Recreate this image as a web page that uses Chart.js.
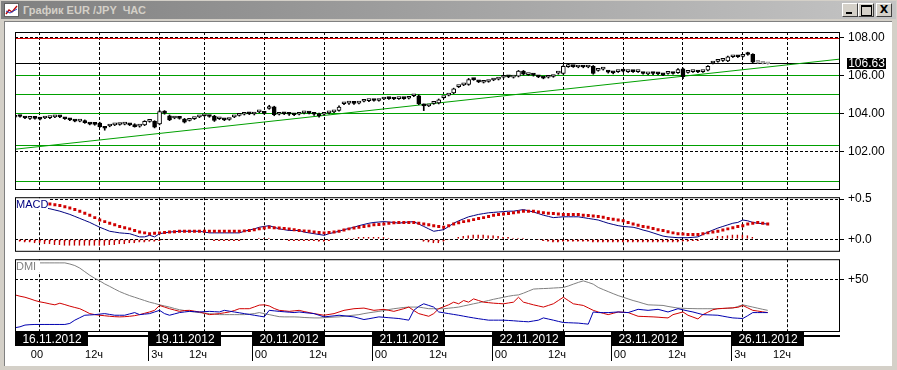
<!DOCTYPE html>
<html>
<head>
<meta charset="utf-8">
<script src="https://cdn.jsdelivr.net/npm/chart.js@4.4.0/dist/chart.umd.min.js"></script>
<style>
body{margin:0;width:897px;height:370px;background:#d4d0c8;position:relative;overflow:hidden;font-family:"Liberation Sans",Arial,sans-serif}
#cap{position:absolute;left:1px;top:1px;width:895px;height:18px;background:linear-gradient(to right,#808080,#c4c4c4)}
#cap span{position:absolute;left:22px;top:3px;font:bold 11px "Liberation Sans",Arial,sans-serif;color:#d4d0c8;white-space:pre}
#ico{position:absolute;left:3px;top:2px}
.btn{position:absolute;top:2px;width:16px;height:14px;background:#d4d0c8;box-sizing:border-box;border:1px solid;border-color:#fff #404040 #404040 #fff}
#client{position:absolute;left:4px;top:21px;width:887px;height:344px;background:#fff;border-left:1px solid #808080;border-top:1px solid #808080}
canvas{position:absolute;left:0}
</style>
</head>
<body>
<div id="cap">
  <div id="ico"><svg width="15" height="14"><rect x="0.5" y="0.5" width="14" height="13" fill="#fff" stroke="#606060"/><polyline points="2,11 5,7 8,9 13,3" fill="none" stroke="#c00000" stroke-width="1.3"/><polyline points="2,8 6,10 13,6" fill="none" stroke="#2040c0" stroke-width="1"/></svg></div>
  <span>График EUR /JPY  ЧАС</span>
  <div class="btn" style="left:841px"><div style="position:absolute;left:3px;top:8px;width:6px;height:2px;background:#000"></div></div>
  <div class="btn" style="left:857px"><div style="position:absolute;left:2px;top:1px;width:9px;height:8px;border:1px solid #000;border-top-width:2px"></div></div>
  <div class="btn" style="left:875px;font:bold 11px 'DejaVu Sans',sans-serif;text-align:center;line-height:12px">X</div>
</div>
<div id="client"></div>
<canvas id="price" width="897" height="181" style="top:20px"></canvas>
<canvas id="macd" width="897" height="76" style="top:186px"></canvas>
<canvas id="dmi" width="897" height="119" style="top:248px"></canvas>
<script>
// hourly bars, 15.11 19:00 .. 26.11 06:00
const opens = [
103.82,103.88,103.80,103.76,103.77,103.74,103.78,103.80,103.84,103.85,
103.76,103.70,103.64,103.62,103.64,103.48,103.46,103.52,103.27,103.36,
103.42,103.44,103.46,103.44,103.44,103.35,103.42,103.60,103.60,103.47,
104.06,103.90,103.78,103.77,103.72,103.66,103.75,103.84,103.90,103.88,
103.88,103.74,103.70,103.70,103.84,103.92,103.98,104.01,103.99,104.10,
104.04,104.28,104.37,103.98,104.01,103.99,103.96,103.98,104.05,104.06,
104.00,104.00,103.98,104.05,104.10,104.18,104.53,104.56,104.57,104.56,
104.66,104.69,104.71,104.70,104.78,104.81,104.79,104.80,104.81,104.82,
104.95,104.95,104.48,104.42,104.55,104.57,104.85,104.98,105.10,105.43,
105.52,105.54,105.82,105.70,105.66,105.70,105.78,105.82,105.92,105.95,
105.93,105.98,106.24,106.06,106.05,105.96,105.90,105.92,105.96,106.14,
106.12,106.48,106.50,106.46,106.48,106.46,106.50,106.28,106.35,106.21,
106.17,106.22,106.25,106.22,106.24,106.22,106.14,106.10,106.13,106.12,
106.07,106.13,106.14,106.16,106.37,106.18,106.22,106.22,106.22,106.30,
106.67,106.76,106.81,106.78,107.00,107.02,107.02,107.20,107.13,106.70,
106.68,106.64];
const highs = [
103.96,103.92,103.84,103.82,103.82,103.80,103.84,103.86,103.92,103.90,
103.80,103.76,103.68,103.68,103.68,103.52,103.52,103.56,103.32,103.42,
103.48,103.50,103.52,103.48,103.48,103.42,103.64,103.66,103.64,104.18,
104.17,103.94,103.84,103.82,103.76,103.72,103.80,103.90,103.96,103.92,
103.92,103.80,103.74,103.76,103.90,103.98,104.04,104.06,104.06,104.16,
104.10,104.45,104.40,104.04,104.06,104.04,104.00,104.04,104.12,104.10,
104.04,104.04,104.04,104.10,104.16,104.42,104.60,104.62,104.62,104.62,
104.72,104.74,104.76,104.76,104.84,104.86,104.84,104.86,104.86,104.88,
105.02,105.00,104.52,104.48,104.60,104.78,104.90,105.04,105.35,105.50,
105.58,105.86,105.86,105.74,105.72,105.75,105.84,105.88,105.98,105.98,
105.98,106.28,106.28,106.12,106.10,106.00,105.94,105.98,106.02,106.20,
106.54,106.65,106.54,106.52,106.52,106.52,106.54,106.34,106.42,106.26,
106.20,106.28,106.30,106.28,106.28,106.28,106.18,106.16,106.18,106.16,
106.12,106.18,106.18,106.38,106.40,106.24,106.28,106.26,106.28,106.54,
106.72,106.82,106.86,107.04,107.06,107.06,107.08,107.24,107.16,106.76,
106.70,106.67];
const lows = [
103.78,103.82,103.74,103.70,103.72,103.68,103.74,103.74,103.80,103.80,
103.70,103.64,103.58,103.58,103.50,103.42,103.40,103.28,103.14,103.32,
103.38,103.40,103.42,103.38,103.30,103.30,103.38,103.56,103.26,103.42,
103.98,103.64,103.74,103.72,103.52,103.62,103.70,103.80,103.86,103.82,
103.60,103.70,103.64,103.66,103.80,103.88,103.94,103.96,103.94,104.06,
103.98,104.24,103.90,103.94,103.96,103.92,103.90,103.94,104.00,104.00,
103.92,103.82,103.94,104.00,104.06,104.14,104.48,104.50,104.50,104.52,
104.62,104.64,104.66,104.66,104.74,104.76,104.74,104.76,104.76,104.78,
104.90,104.48,104.17,104.38,104.50,104.52,104.82,104.94,105.06,105.38,
105.48,105.50,105.76,105.64,105.62,105.66,105.74,105.78,105.88,105.90,
105.88,105.94,106.04,106.02,105.98,105.90,105.84,105.88,105.92,106.08,
106.08,106.44,106.44,106.42,106.42,106.42,106.08,106.24,106.30,106.14,
106.10,106.18,106.20,106.18,106.18,106.18,106.08,106.06,106.06,106.06,
106.00,106.08,106.08,106.12,105.85,106.14,106.18,106.16,106.18,106.26,
106.62,106.72,106.76,106.74,106.96,106.96,106.98,107.08,106.66,106.66,
106.62,106.60];
const closes = [
103.90,103.86,103.78,103.76,103.76,103.72,103.80,103.80,103.86,103.84,
103.74,103.68,103.62,103.64,103.54,103.46,103.45,103.32,103.24,103.38,
103.42,103.45,103.47,103.42,103.33,103.36,103.60,103.60,103.30,104.12,
104.04,103.68,103.80,103.76,103.56,103.68,103.76,103.86,103.92,103.86,
103.65,103.76,103.68,103.72,103.86,103.94,104.00,104.00,104.00,104.12,
104.02,104.30,103.95,104.00,104.00,103.98,103.95,104.00,104.07,104.04,
103.98,103.90,104.00,104.07,104.12,104.36,104.55,104.57,104.55,104.58,
104.68,104.70,104.70,104.72,104.80,104.80,104.78,104.82,104.80,104.84,
104.97,104.53,104.42,104.44,104.57,104.74,104.87,105.00,105.31,105.45,
105.54,105.80,105.80,105.68,105.68,105.71,105.80,105.84,105.94,105.94,
105.94,106.24,106.08,106.07,106.03,105.94,105.88,105.94,105.98,106.16,
106.50,106.50,106.48,106.48,106.46,106.48,106.12,106.30,106.37,106.19,
106.15,106.24,106.24,106.24,106.22,106.24,106.12,106.12,106.12,106.10,
106.05,106.15,106.12,106.33,105.95,106.20,106.24,106.20,106.24,106.50,
106.69,106.78,106.83,106.99,107.02,107.00,107.04,107.12,106.72,106.72,
106.66,106.63];

const priceTicks = [102, 104, 106, 108];
const greenLevels = [106.0, 105.0, 104.0, 102.35, 100.45];
const redLevel = 107.96;
const trendX = [0, 165.3];
const trendY = [102.14, 106.87];

const macdLine = [
null,null,null,null,null,null,
.39,.38,.365,.35,.33,.31,.285,.26,.235,.21,
.18,.15,.125,.10,.09,.08,.075,.07,.05,.03,
.03,.05,.03,.07,.08,.09,.095,.10,.10,.10,
.10,.10,.09,.08,.08,.08,.08,.08,.08,.08,
.10,.115,.13,.15,.16,.17,.15,.13,.12,.11,
.11,.11,.09,.08,.07,.06,.05,.07,.085,.10,
.12,.135,.15,.17,.185,.20,.21,.215,.22,.215,
.21,.20,.21,.215,.22,.19,.16,.13,.10,.11,
.12,.16,.20,.23,.255,.28,.295,.31,.32,.33,
.335,.34,.345,.35,.35,.36,.37,.355,.34,.32,
.30,.285,.27,.275,.28,.28,.28,.28,.27,.26,
.25,.24,.22,.20,.185,.17,.16,.155,.15,.135,
.115,.10,.08,.06,.04,.03,.025,.02,.02,.02,
.025,.03,.06,.09,.115,.14,.16,.18,.20,.21,
.24,.23,.21,.20,.195,.19];
const signalLine = [
.44,.44,.44,.44,.44,.44,.44,.44,.43,.42,
.405,.39,.37,.35,.325,.30,.27,.24,.22,.20,
.18,.16,.145,.13,.11,.09,.08,.07,.075,.08,
.085,.09,.095,.10,.10,.10,.10,.10,.10,.10,
.10,.10,.10,.10,.10,.10,.105,.11,.12,.13,
.14,.15,.145,.14,.135,.13,.12,.11,.105,.10,
.09,.085,.08,.085,.09,.10,.115,.13,.14,.15,
.16,.17,.18,.185,.19,.20,.205,.21,.21,.21,
.21,.20,.19,.18,.17,.16,.15,.17,.19,.205,
.22,.23,.245,.26,.27,.285,.30,.31,.315,.32,
.33,.34,.35,.35,.35,.34,.33,.325,.32,.315,
.31,.31,.31,.31,.30,.295,.29,.285,.275,.26,
.25,.24,.23,.21,.19,.175,.16,.15,.135,.12,
.11,.095,.08,.07,.065,.06,.06,.06,.07,.08,
.09,.10,.115,.13,.145,.16,.17,.19,.20,.21,
.20,.19];
const macdHist = [
-.03,-.03,-.04,-.04,-.05,-.05,-.06,-.06,-.07,-.07,
-.08,-.08,-.08,-.08,-.08,-.08,-.08,-.08,-.08,-.07,
-.07,-.06,-.06,-.05,-.05,-.04,-.04,-.03,-.03,-.02,
-.01,-.01,0,0,0,0,0,0,-.01,-.01,
-.02,-.02,-.02,-.02,-.02,-.02,-.01,0,.01,.02,
.02,.02,.01,0,-.01,-.02,-.02,-.02,-.02,-.02,
-.02,-.03,-.03,-.02,-.01,0,.01,.02,.02,.03,
.03,.03,.03,.03,.03,.02,.01,-.01,0,0,
.01,-.01,-.03,-.04,-.05,-.05,-.03,-.01,.01,.03,
.04,.05,.06,.06,.06,.05,.05,.04,.03,.03,
.02,.02,.02,.01,0,-.01,-.02,-.03,-.04,-.04,
-.03,-.03,-.03,-.03,-.03,-.03,-.04,-.04,-.04,-.04,
-.04,-.04,-.04,-.04,-.04,-.04,-.04,-.04,-.04,-.04,
-.04,-.04,-.04,-.04,-.03,-.03,-.02,-.02,-.01,.01,
.02,.04,.04,.05,.06,.06,.06,.05,.03,.01,
0,0];
const macdTicks = [0, 0.5];

const adx = [
66.6,66.6,66.6,66.6,66.6,66.6,66.6,66.6,66.6,66.6,
66.6,65.5,64,61.5,58,54.5,51.5,49,46,43.6,
41,38.5,36.5,34.6,33,31.4,29.8,28.2,27,25.6,
24.5,23.4,22,20.8,20,19.2,18.6,18,17.5,17,
16.5,16,16,16,16,16,16,16.5,17,18,
17,16,15,14,13.8,13.8,13.8,13.6,13.2,13,
12.8,12.8,13,13.3,13.6,13.8,14.3,15,15.5,16,
17,17.8,18.5,19.2,20,21,21.8,22.4,23,23.4,
23.4,23.4,22.6,21.8,21.8,21.8,21.8,22.3,22.8,23.4,
24.5,25.5,26.6,27.6,28.7,29.8,31,32,33,34,
34.8,35.3,37,39,41,41.3,41.5,41.7,42,42.3,
42.6,44,45.8,47.5,49,47.5,45.8,42.6,40.5,38.5,
36.5,34.6,33,31.4,29.8,28.5,27,25.6,25.4,25.2,
25,24,23.2,22.4,22.2,22,21.9,21.8,21.8,21.8,
21.8,21.8,22,22.2,22.4,24,25.6,24.5,23.4,22.3,
21.2,20.2];
const plusDI = [
35.3,34,33,31.5,29.8,28.5,27.6,26.5,25.6,27.2,
25.8,24.3,23,21.8,19.5,17,16,15.4,14.9,14.4,
14,13.8,14,14.4,15,16,17.3,18.6,20.2,25,
23.4,21.8,20.5,19.2,20,20.2,19.4,18.6,17.3,16,
16.5,17,17.8,18.6,20,21.8,21.8,21.8,23.5,25.3,
25.6,24.5,22,20.2,19.7,19.2,19.7,20.2,19,18,
17,16.2,15.4,16.2,17,18.6,20.2,21,21.8,22.1,
22.4,21.3,20.2,20.7,21.2,20.2,19.2,20.5,21.8,23.4,
20,17,15.7,14.4,17,21.8,23.7,25.6,28.2,26.6,
29.8,28.2,31.4,29.8,28.2,27.7,27.2,26.9,26.6,27.4,
28.2,33,28.2,26.9,25.6,24.5,23.4,25,26.6,29.8,
33,29.8,26.6,25.8,25,22.6,20.2,18.6,17.3,16,
17.3,18.6,18.3,18,16.2,14.4,14.2,14,13.8,13.5,
13.1,12.8,16,17.3,18.6,15.4,13.6,11.8,16,18.4,
20.8,21.8,22.1,22.4,22.7,23.1,25,22.6,20.2,19.5,
18.7,18];
const minusDI = [
3.2,4.1,5.8,6.2,6.4,6.4,6.4,6.4,6.4,6.4,
6.4,7.4,10.6,13,15.4,15.7,16,16.5,17,16.2,
15.4,15.4,15.4,16.7,18,16,16.5,17,18.6,20.2,
17,15.4,16.7,18,18.6,19.2,18.9,18.6,18.9,19.2,
18.9,18.6,20.2,19.4,18.6,17.8,17,16.2,15.4,14.6,
13.8,20.2,19.7,19.2,18.8,18.4,18,18.6,18,17.5,
17,15.4,13.8,14.3,14.8,15.4,14.9,14.3,13.8,12.5,
11.2,12,12.9,13.8,13.4,13,12.6,12.2,11.4,10.6,
20.2,24,26.6,25,23.4,18.6,17.8,17,16.2,15.4,
14.5,13.6,12.8,12,11.3,10.6,10.6,10.6,10.6,10.3,
10,9.6,9.3,9,9.8,10.6,12.8,11.7,10.6,9.4,
8.3,8.1,7.9,7.7,7.2,6.7,18.6,18,18,18,
18.3,18.6,18.3,18,19.6,21.2,20.7,20.2,20.7,21.2,
19.9,18.6,20.2,21.8,20.7,19.6,18.6,17.3,16,15.8,
15.6,15.4,14.5,13.6,12.8,12.5,12.2,15,18,18,
18,18];
const dmiTicks = [50];

const tickIdx = [5, 17, 29, 38, 50, 62, 74, 86, 98, 110, 122, 134, 146, 155];
const tickText = ['00', '12ч', '3ч', '12ч', '00', '12ч', '00', '12ч', '00', '12ч', '00', '12ч', '3ч', '12ч'];
const days = ['16.11.2012', '19.11.2012', '20.11.2012', '21.11.2012', '22.11.2012', '23.11.2012', '26.11.2012'];
const dayStart = [0, 29, 50, 74, 98, 122, 146];
const liveFrom = 149;
const xMax = 165.3;

Chart.defaults.font.family = '"Liberation Sans", Arial, sans-serif';
Chart.defaults.font.size = 12;
Chart.defaults.color = '#000';

function xAxis() {
    return {
        type: 'linear', min: 0, max: xMax, offset: false,
        afterBuildTicks: s => { s.ticks = tickIdx.map(v => ({ value: v })); },
        afterFit: s => { s.height = 0; },
        ticks: { display: false },
        grid: { color: '#000', drawTicks: false, offset: false },
        border: { display: false, dash: [3, 2] }
    };
}
function yAxis(min, max, ticks, fmt) {
    return {
        type: 'linear', position: 'right', min: min, max: max,
        afterBuildTicks: s => { s.ticks = ticks.map(v => ({ value: v })); },
        afterFit: s => { s.width = 58; },
        ticks: { color: '#000', padding: 4, callback: fmt },
        grid: { color: '#000', tickLength: 5, tickColor: '#000', tickBorderDash: [] },
        border: { display: false, dash: [3, 2] }
    };
}
function baseOptions(pad, y) {
    return {
        responsive: false, animation: false, events: [],
        layout: { padding: pad },
        plugins: { legend: { display: false }, tooltip: { enabled: false } },
        scales: { x: xAxis(), y: y }
    };
}

var framePlugin = {
    id: 'frame',
    afterDraw: function (chart) {
        var ctx = chart.ctx, a = chart.chartArea;
        ctx.save();
        ctx.strokeStyle = '#000';
        ctx.lineWidth = 1;
        ctx.strokeRect(a.left + 0.5, a.top + 0.5, a.width, a.height);
        ctx.restore();
    }
};

function labelPlugin(text, color, w) {
    return {
        id: 'lbl',
        afterDatasetsDraw: function (chart) {
            var ctx = chart.ctx, a = chart.chartArea;
            ctx.save();
            ctx.fillStyle = '#fff';
            ctx.fillRect(a.left + 1, a.top + 1, w, 12);
            ctx.fillStyle = color;
            ctx.font = '11px "Liberation Sans", Arial, sans-serif';
            ctx.textBaseline = 'top';
            ctx.fillText(text, a.left + 1, a.top + 2);
            ctx.restore();
        }
    };
}

var levelPlugin = {
    id: 'levels',
    beforeDatasetsDraw: function (chart) {
        var ctx = chart.ctx, a = chart.chartArea, y = chart.scales.y;
        ctx.save();
        ctx.lineWidth = 1;
        function hline(v, color) {
            var py = Math.floor(y.getPixelForValue(v)) + 0.5;
            ctx.strokeStyle = color;
            ctx.beginPath();
            ctx.moveTo(a.left, py);
            ctx.lineTo(a.right, py);
            ctx.stroke();
        }
        greenLevels.forEach(function (v) { hline(v, '#00a000'); });
        hline(redLevel, '#e00000');
        hline(closes[closes.length - 1], '#000');
        ctx.restore();
    },
    afterDraw: function (chart) {
        var ctx = chart.ctx, a = chart.chartArea, y = chart.scales.y;
        var last = closes[closes.length - 1];
        var py = Math.floor(y.getPixelForValue(last));
        ctx.save();
        ctx.fillStyle = '#000';
        ctx.fillRect(a.right + 8, py - 5, 39, 11);
        ctx.fillStyle = '#fff';
        ctx.font = '12px "Liberation Sans", Arial, sans-serif';
        ctx.textAlign = 'center';
        ctx.textBaseline = 'middle';
        ctx.fillText(last.toFixed(2), a.right + 27.5, py + 1);
        ctx.restore();
    }
};

var datePlugin = {
    id: 'dates',
    afterDraw: function (chart) {
        var ctx = chart.ctx, a = chart.chartArea, x = chart.scales.x;
        var top = a.bottom + 1;
        ctx.save();
        ctx.fillStyle = '#000';
        ctx.fillRect(a.left, top + 3, a.width + 1, 2);
        ctx.font = '12px "Liberation Sans", Arial, sans-serif';
        ctx.textBaseline = 'middle';
        ctx.textAlign = 'center';
        days.forEach(function (d, k) {
            var bx = Math.max(a.left, Math.round(x.getPixelForValue(dayStart[k])) - 12);
            ctx.fillStyle = '#000';
            ctx.fillRect(bx, top, 73, 14);
            if (k > 0) ctx.fillRect(bx, top + 14, 1, 15);
            ctx.fillStyle = '#fff';
            ctx.fillText(d, bx + 37, top + 7.5);
        });
        ctx.font = '11px "Liberation Sans", Arial, sans-serif';
        ctx.fillStyle = '#000';
        ctx.textAlign = 'right';
        tickIdx.forEach(function (v, k) {
            ctx.fillText(tickText[k], Math.round(x.getPixelForValue(v)) + 3, top + 23);
        });
        ctx.restore();
    }
};

var priceOpts = baseOptions({ left: 15, right: 0, top: 12, bottom: 12 },
    yAxis(100.05, 108.3, priceTicks, function (v) { return v.toFixed(2); }));
new Chart(document.getElementById('price'), {
    data: {
        datasets: [
            {
                type: 'bar', order: 2, grouped: false, barThickness: 1,
                data: highs.map(function (h, i) { return { x: i, y: [lows[i], h] }; }),
                backgroundColor: function (c) { return c.dataIndex >= liveFrom ? '#9a9a9a' : '#000'; }
            },
            {
                type: 'bar', order: 1, grouped: false, barThickness: 4, minBarLength: 2,
                data: opens.map(function (o, i) { return { x: i, y: [o, closes[i]] }; }),
                backgroundColor: function (c) {
                    var i = c.dataIndex;
                    if (i >= liveFrom) return '#c8c8c8';
                    return closes[i] >= opens[i] ? '#fff' : '#000';
                },
                borderColor: function (c) { return c.dataIndex >= liveFrom ? '#9a9a9a' : '#000'; },
                borderWidth: 1, borderSkipped: false
            },
            {
                type: 'line', order: 3,
                data: trendX.map(function (v, k) { return { x: v, y: trendY[k] }; }),
                borderColor: '#00a000', borderWidth: 1, pointRadius: 0
            }
        ]
    },
    options: priceOpts,
    plugins: [levelPlugin, framePlugin]
});

new Chart(document.getElementById('macd'), {
    data: {
        datasets: [
            {
                type: 'bar', order: 3, grouped: false, barThickness: 2,
                data: macdHist.map(function (v, i) { return { x: i, y: v }; }),
                backgroundColor: 'rgba(0,0,0,0)', borderColor: '#c00000', borderSkipped: false,
                borderWidth: function (c) {
                    var v = macdHist[c.dataIndex];
                    return v < 0 ? { left: 1, top: 1, right: 0, bottom: 0 } : { left: 1, top: 0, right: 0, bottom: 0 };
                }
            },
            {
                type: 'line', order: 2,
                data: macdLine.map(function (v, i) { return { x: i, y: v }; }),
                borderColor: '#000080', borderWidth: 1, pointRadius: 0, spanGaps: false
            },
            {
                type: 'line', order: 1, showLine: false,
                data: signalLine.map(function (v, i) { return { x: i, y: v }; }),
                pointStyle: 'rect', pointRadius: 2.1, pointBorderWidth: 0,
                pointBackgroundColor: '#d00000', borderColor: '#d00000'
            }
        ]
    },
    options: baseOptions({ left: 15, right: 0, top: 10, bottom: 10 },
        yAxis(-0.143, 0.524, macdTicks, function (v) { return '+' + v.toFixed(1); })),
    plugins: [labelPlugin('MACD', '#000080', 32), framePlugin]
});

new Chart(document.getElementById('dmi'), {
    data: {
        datasets: [
            {
                type: 'line', order: 3,
                data: adx.map(function (v, i) { return { x: i, y: v }; }),
                borderColor: '#808080', borderWidth: 1, pointRadius: 0
            },
            {
                type: 'line', order: 2,
                data: plusDI.map(function (v, i) { return { x: i, y: v }; }),
                borderColor: '#d00000', borderWidth: 1, pointRadius: 0
            },
            {
                type: 'line', order: 1,
                data: minusDI.map(function (v, i) { return { x: i, y: v }; }),
                borderColor: '#0000b0', borderWidth: 1, pointRadius: 0
            }
        ]
    },
    options: baseOptions({ left: 15, right: 0, top: 10, bottom: 36 },
        yAxis(0, 70.2, dmiTicks, function (v) { return '+' + v; })),
    plugins: [labelPlugin('DMI', '#808080', 24), datePlugin, framePlugin]
});
</script>
</body>
</html>
